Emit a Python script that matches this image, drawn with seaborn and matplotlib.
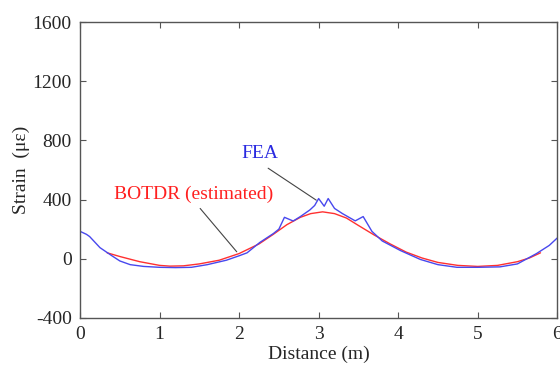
import matplotlib
matplotlib.use("Agg")
import matplotlib.pyplot as plt
import seaborn as sns
import pandas as pd

fea_x = [0.0, 0.08, 0.12, 0.25, 0.4, 0.5, 0.63, 0.8, 1.0, 1.2, 1.4, 1.6, 1.84, 2.0, 2.1, 2.26, 2.43, 2.5,
         2.57, 2.68, 2.77, 2.89, 2.95, 3.0, 3.07, 3.12, 3.2, 3.3, 3.46, 3.56, 3.67, 3.8, 4.03, 4.28, 4.5,
         4.74, 5.0, 5.28, 5.5, 5.74, 5.9, 6.0]
fea_y = [185, 165, 150, 75, 20, -15, -40, -52, -58, -60, -58, -40, -10, 20, 40, 110, 170, 200,
         280, 255, 285, 330, 360, 407, 355, 407, 340, 305, 256, 285, 185, 120, 55, -5, -40,
         -58, -58, -55, -35, 35, 90, 140]

botdr_x = [0.34, 0.5, 0.75, 1.0, 1.13, 1.3, 1.5, 1.75, 2.0, 2.25, 2.43, 2.6, 2.77, 2.9, 3.05, 3.2, 3.35,
           3.5, 3.7, 3.9, 4.1, 4.3, 4.5, 4.75, 5.0, 5.25, 5.5, 5.65, 5.79]
botdr_y = [40, 15, -20, -45, -50, -48, -35, -10, 35, 100, 165, 230, 280, 305, 317, 305, 275,
           225, 160, 100, 45, 5, -25, -45, -52, -45, -20, 5, 40]

x_ticks = [0, 1, 2, 3, 4, 5, 6]
y_ticks = [-400, 0, 400, 800, 1200, 1600]

sns.set_style("ticks")
plt.rcParams['font.family'] = ['Liberation Serif', 'DejaVu Serif']
plt.rcParams['axes.unicode_minus'] = False

fig = plt.figure(figsize=(5.6, 3.74), dpi=100)
ax = fig.add_axes([0.143, 0.150, 0.852, 0.791])

df_fea = pd.DataFrame({"x": fea_x, "y": fea_y})
df_bot = pd.DataFrame({"x": botdr_x, "y": botdr_y})
sns.lineplot(data=df_bot, x="x", y="y", ax=ax, color="#ff3030", lw=1.0, sort=False)
sns.lineplot(data=df_fea, x="x", y="y", ax=ax, color="#4848ee", lw=1.0, sort=False)

ax.set_xlim(0, 6)
ax.set_ylim(-400, 1600)
ax.set_xticks(x_ticks)
ax.set_yticks(y_ticks)
ax.tick_params(direction="in", top=True, right=True, labelsize=14, length=4, color="#555555", pad=6)
for s in ax.spines.values():
    s.set_color("#555555")
    s.set_linewidth(1.0)
ax.set_xlabel("Distance (m)", fontsize=14, labelpad=2)
ax.set_ylabel("Strain  (\u03bc\u03b5)", fontsize=14, labelpad=2)

ax.text(2.26, 713, "FEA", color="#2a2ae0", fontsize=14, ha="center", va="center")
ax.annotate("", xy=(2.97, 396), xytext=(2.365, 612),
            arrowprops=dict(arrowstyle="-", color="#444444", lw=0.8, shrinkA=0, shrinkB=0))
ax.text(1.43, 436, "BOTDR (estimated)", color="#ff2020", fontsize=14, ha="center", va="center")
ax.annotate("", xy=(1.97, 47), xytext=(1.51, 340),
            arrowprops=dict(arrowstyle="-", color="#444444", lw=0.8, shrinkA=0, shrinkB=0))

fig.savefig("out.png", dpi=100)
